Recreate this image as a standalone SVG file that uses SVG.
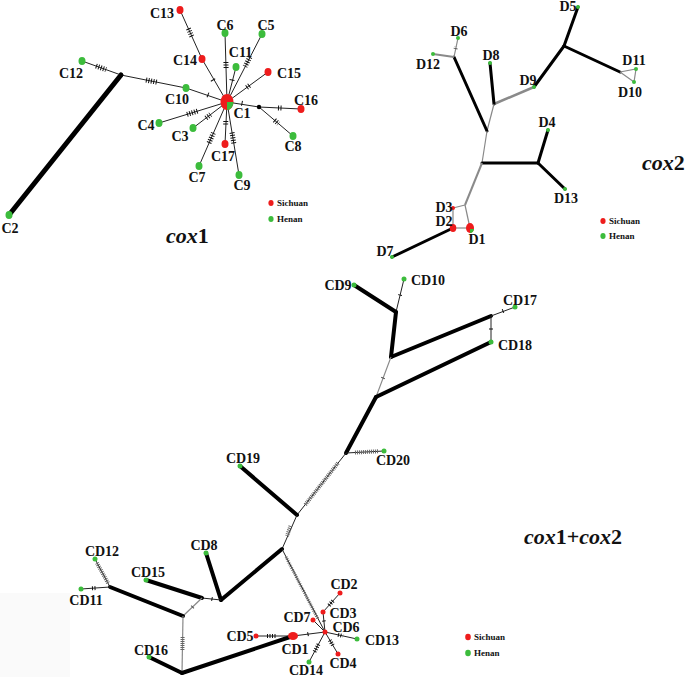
<svg xmlns="http://www.w3.org/2000/svg" width="685" height="677" viewBox="0 0 685 677">
<style>
text{font-family:"Liberation Serif","Times New Roman",serif;font-weight:bold;fill:#111}
.lb{font-size:14px;text-anchor:middle}
.lg{font-size:9px}
.ti{font-size:21px}
.e{stroke:#222;stroke-width:1;fill:none}
.t{stroke:#000;stroke-width:4;fill:none;stroke-linecap:round}
.t3{stroke:#000;stroke-width:3;fill:none;stroke-linecap:round}
.g{stroke:#888;stroke-width:1.2;fill:none}
.gw{stroke:#8a8a8a;stroke-width:2.5;fill:none}
.h{stroke:#111;stroke-width:5;stroke-dasharray:1 1.5;fill:none}
.hg{stroke:#666;stroke-width:4;stroke-dasharray:1 1;fill:none}
.r{fill:#ee1c1c}
.gr{fill:#3cbc3c}
</style>
<rect width="685" height="677" fill="#fff"/>
<rect x="0" y="593" width="70" height="84" fill="#fafafa"/>

<!-- ================= cox1 ================= -->
<g id="cox1-connectors">
<line class="t" x1="121" y1="75" x2="9" y2="215" style="stroke-width:5"/>
<line class="e" x1="82" y1="61" x2="121" y2="75"/>
<line class="h" x1="96" y1="66" x2="106" y2="69.6"/>
<line class="e" x1="121" y1="75" x2="186" y2="88"/>
<line class="h" x1="146" y1="80" x2="158" y2="82.4"/>
<line class="e" x1="186" y1="88" x2="227" y2="102"/>
<line class="h" x1="207.5" y1="94.8" x2="208.5" y2="95.2"/>
<line class="e" x1="180" y1="10" x2="202" y2="59"/>
<line class="h" x1="188.4" y1="28.6" x2="192.1" y2="37"/>
<line class="e" x1="202" y1="59" x2="227" y2="102"/>
<line class="h" x1="212.75" y1="79.57" x2="213.25" y2="80.43"/>
<line class="e" x1="225" y1="33" x2="227" y2="102"/>
<line class="h" x1="225.9" y1="62" x2="226.1" y2="68"/>
<line class="e" x1="236" y1="67" x2="227" y2="102"/>
<line class="h" x1="232.1" y1="79.5" x2="231.9" y2="80.5"/>
<line class="e" x1="262" y1="34" x2="227" y2="102"/>
<line class="h" x1="250" y1="57" x2="245" y2="66.5"/>
<line class="e" x1="268" y1="72" x2="227" y2="102"/>
<line class="h" x1="249.5" y1="85.5" x2="245.5" y2="88.4"/>
<line class="e" x1="159" y1="123" x2="227" y2="102"/>
<line class="h" x1="187" y1="114.4" x2="198" y2="111"/>
<line class="e" x1="193" y1="128" x2="227" y2="102"/>
<line class="h" x1="206" y1="118" x2="210.5" y2="114.6"/>
<line class="e" x1="225" y1="144" x2="227" y2="102"/>
<line class="h" x1="225.8" y1="121" x2="225.6" y2="125.5"/>
<line class="e" x1="199" y1="166" x2="227" y2="102"/>
<line class="h" x1="209" y1="143" x2="214" y2="131.5"/>
<line class="e" x1="239" y1="175" x2="227" y2="102"/>
<line class="h" x1="232" y1="132.5" x2="233.8" y2="143.5"/>
<line class="e" x1="227" y1="102" x2="259" y2="107"/>
<line class="h" x1="241.5" y1="103.2" x2="242.5" y2="103.4"/>
<line class="e" x1="259" y1="107" x2="301" y2="109"/>
<line class="h" x1="278" y1="107.9" x2="282" y2="108.1"/>
<line class="e" x1="259" y1="107" x2="293" y2="136"/>
<line class="h" x1="274.5" y1="120.2" x2="278.5" y2="123.6"/>
</g>
<g id="c-junction"><circle cx="121" cy="75" r="2" fill="#000"/><circle cx="259" cy="107" r="2.2" fill="#000"/></g>
<g id="C1"><ellipse cx="227" cy="102" rx="6.5" ry="8" class="r"/><path d="M227 102 L233.5 102 A6.5 8 0 0 1 227 110 Z" class="gr"/><text class="lb" x="242" y="118">C1</text></g>
<g id="C2"><ellipse cx="9" cy="215" rx="3.5" ry="4" class="gr"/><text class="lb" x="10" y="233">C2</text></g>
<g id="C3"><ellipse cx="193" cy="128" rx="3.5" ry="4" class="gr"/><text class="lb" x="180" y="141">C3</text></g>
<g id="C4"><ellipse cx="159" cy="123" rx="3.5" ry="4" class="gr"/><text class="lb" x="146" y="130">C4</text></g>
<g id="C5"><ellipse cx="262" cy="34" rx="3.5" ry="4" class="gr"/><text class="lb" x="266" y="30">C5</text></g>
<g id="C6"><ellipse cx="225" cy="33" rx="3.5" ry="4" class="gr"/><text class="lb" x="225" y="30">C6</text></g>
<g id="C7"><ellipse cx="199" cy="166" rx="3.5" ry="4" class="gr"/><text class="lb" x="197" y="182">C7</text></g>
<g id="C8"><ellipse cx="293" cy="136" rx="3.5" ry="4" class="gr"/><text class="lb" x="293" y="151">C8</text></g>
<g id="C9"><ellipse cx="239" cy="175" rx="3.5" ry="4" class="gr"/><text class="lb" x="242" y="190">C9</text></g>
<g id="C10"><ellipse cx="186" cy="88" rx="3.5" ry="4" class="gr"/><text class="lb" x="177" y="104">C10</text></g>
<g id="C11"><ellipse cx="236" cy="67" rx="3.5" ry="4" class="gr"/><text class="lb" x="240.5" y="57">C11</text></g>
<g id="C12"><ellipse cx="82" cy="61" rx="3.5" ry="4" class="gr"/><text class="lb" x="71" y="78">C12</text></g>
<g id="C13"><ellipse cx="180" cy="10" rx="3.5" ry="4" class="r"/><text class="lb" x="162" y="18">C13</text></g>
<g id="C14"><ellipse cx="202" cy="59" rx="3.5" ry="4" class="r"/><text class="lb" x="185" y="65">C14</text></g>
<g id="C15"><ellipse cx="268" cy="72" rx="3.5" ry="4" class="r"/><text class="lb" x="289" y="78">C15</text></g>
<g id="C16"><ellipse cx="301" cy="109" rx="3.5" ry="4" class="r"/><text class="lb" x="306" y="105">C16</text></g>
<g id="C17"><ellipse cx="225" cy="144" rx="3.5" ry="4" class="r"/><text class="lb" x="223" y="161">C17</text></g>
<g id="legend1">
<ellipse cx="271" cy="203" rx="2.6" ry="3" class="r"/><text class="lg" x="277" y="206">Sichuan</text>
<ellipse cx="271" cy="219" rx="2.6" ry="3" class="gr"/><text class="lg" x="277" y="222">Henan</text>
</g>
<g id="title1"><text class="ti" x="166" y="243" style="font-size:22px"><tspan font-style="italic">cox</tspan>1</text></g>

<!-- ================= cox2 ================= -->
<g id="cox2-connectors">
<line class="t3" x1="578" y1="7" x2="564" y2="46"/>
<line class="t3" x1="564" y1="46" x2="620" y2="72"/>
<line class="t3" x1="564" y1="46" x2="534" y2="87"/>
<polyline class="g" points="620,72 636,69 634,82 620,72"/>
<line class="gw" x1="534" y1="87" x2="494" y2="104"/>
<line class="t3" x1="494" y1="104" x2="490" y2="63"/>
<line class="g" x1="494" y1="104" x2="487" y2="131"/>
<line class="t3" x1="454" y1="57" x2="487" y2="131"/>
<line class="g" x1="454" y1="57" x2="458" y2="38"/>
<line class="h" x1="455.5" y1="49" x2="456" y2="46.5" style="stroke-width:4;stroke:#555"/>
<line class="gw" x1="454" y1="57" x2="433" y2="54" style="stroke-width:2"/>
<line class="g" x1="487" y1="131" x2="482" y2="163"/>
<line class="t3" x1="482" y1="163" x2="538" y2="163"/>
<line class="t3" x1="538" y1="163" x2="548" y2="130"/>
<line class="t3" x1="538" y1="163" x2="565" y2="189"/>
<line class="gw" x1="482" y1="163" x2="465" y2="205" style="stroke-width:2"/>
<line class="g" x1="465" y1="205" x2="453" y2="208"/>
<line class="g" x1="453" y1="208" x2="453" y2="228"/>
<line class="g" x1="465" y1="205" x2="470" y2="228"/>
<line class="g" x1="453" y1="228" x2="470" y2="228"/>
<line class="t3" x1="453" y1="228" x2="392" y2="257"/>
</g>
<g id="D1"><ellipse cx="470" cy="228" rx="4" ry="5" class="r"/><path d="M470 229 L474 229 A4 5 0 0 1 470 233 Z" class="gr"/><text class="lb" x="477" y="244">D1</text></g>
<g id="D2"><ellipse cx="453" cy="228" rx="3.3" ry="4" class="r"/><text class="lb" x="444" y="226">D2</text></g>
<g id="D3"><circle cx="453" cy="208" r="2" class="r"/><text class="lb" x="444" y="212">D3</text></g>
<g id="D4"><circle cx="548" cy="130" r="2" class="gr"/><text class="lb" x="547" y="127">D4</text></g>
<g id="D5"><circle cx="578" cy="7" r="2" class="gr"/><text class="lb" x="568" y="11">D5</text></g>
<g id="D6"><circle cx="458" cy="38" r="2" class="gr"/><text class="lb" x="459" y="36">D6</text></g>
<g id="D7"><circle cx="392" cy="257" r="2" class="gr"/><text class="lb" x="385" y="256">D7</text></g>
<g id="D8"><circle cx="490" cy="63" r="2" class="gr"/><text class="lb" x="491" y="60">D8</text></g>
<g id="D9"><circle cx="534" cy="87" r="2" class="gr"/><text class="lb" x="528" y="85">D9</text></g>
<g id="D10"><circle cx="634" cy="82" r="2" class="gr"/><text class="lb" x="630" y="97">D10</text></g>
<g id="D11"><circle cx="636" cy="69" r="2" class="gr"/><text class="lb" x="634" y="65">D11</text></g>
<g id="D12"><circle cx="433" cy="54" r="2" class="gr"/><text class="lb" x="428" y="69">D12</text></g>
<g id="D13"><circle cx="565" cy="189" r="2" class="gr"/><text class="lb" x="566" y="203">D13</text></g>
<g id="legend2">
<ellipse cx="603" cy="221" rx="2.6" ry="3" class="r"/><text class="lg" x="609" y="224">Sichuan</text>
<ellipse cx="603" cy="236" rx="2.6" ry="3" class="gr"/><text class="lg" x="609" y="239">Henan</text>
</g>
<g id="title2"><text class="ti" x="642" y="170" style="font-size:22px"><tspan font-style="italic">cox</tspan>2</text></g>

<!-- ================= cox1+cox2 ================= -->
<g id="cd-connectors">
<line class="t" x1="354" y1="285" x2="396" y2="312"/>
<line class="e" x1="396" y1="312" x2="404" y2="279"/>
<line class="h" x1="399.9" y1="295.5" x2="400.1" y2="294.5" style="stroke-width:4"/>
<line class="t" x1="396" y1="312" x2="391" y2="357"/>
<line class="t" x1="391" y1="357" x2="491" y2="316"/>
<line class="e" x1="491" y1="316" x2="515" y2="307"/>
<line class="h" x1="502.5" y1="311.2" x2="503.5" y2="310.8" style="stroke-width:4"/>
<line class="e" x1="491" y1="316" x2="491" y2="342"/>
<line class="h" x1="491" y1="328.5" x2="491" y2="329.5" style="stroke-width:4"/>
<line class="g" x1="391" y1="357" x2="376" y2="397"/>
<line class="h" x1="383.2" y1="377.5" x2="382.8" y2="378.5" style="stroke-width:4;stroke:#555"/>
<line class="t" x1="376" y1="397" x2="491" y2="342"/>
<line class="t" x1="376" y1="397" x2="346" y2="453"/>
<line class="e" x1="346" y1="453" x2="384" y2="451"/>
<line class="hg" x1="355" y1="452.5" x2="378" y2="451.3"/>
<line class="e" x1="346" y1="453" x2="297" y2="515"/>
<line class="hg" x1="338" y1="463" x2="305" y2="505"/>
<line class="t" x1="297" y1="515" x2="240" y2="466"/>
<line class="e" x1="297" y1="515" x2="282" y2="549"/>
<line class="hg" x1="290.5" y1="526" x2="287" y2="536"/>
<line class="t" x1="282" y1="549" x2="221" y2="600"/>
<line class="t" x1="221" y1="600" x2="206" y2="553"/>
<line class="e" x1="221" y1="600" x2="202" y2="598"/>
<line class="h" x1="211.5" y1="598.9" x2="212.5" y2="599.1" style="stroke-width:4"/>
<line class="t" x1="202" y1="598" x2="146" y2="580"/>
<line class="g" x1="202" y1="598" x2="183" y2="616"/>
<line class="h" x1="192.9" y1="606.6" x2="192.1" y2="607.4" style="stroke-width:4;stroke:#555"/>
<line class="t" x1="183" y1="616" x2="110" y2="587"/>
<line class="e" x1="110" y1="587" x2="95" y2="559"/>
<line class="hg" x1="108" y1="583" x2="97" y2="563"/>
<line class="e" x1="110" y1="587" x2="81" y2="589"/>
<line class="h" x1="92" y1="588.3" x2="97" y2="588" style="stroke-width:4"/>
<line class="g" x1="183" y1="616" x2="182" y2="673"/>
<line class="hg" x1="182.6" y1="637" x2="182.4" y2="650"/>
<line class="t" x1="182" y1="673" x2="149" y2="657"/>
<line class="t" x1="182" y1="673" x2="293" y2="636"/>
<line class="e" x1="293" y1="636" x2="256" y2="636"/>
<line class="h" x1="267" y1="636" x2="276" y2="636" style="stroke-width:4"/>
<line class="e" x1="282" y1="549" x2="325" y2="632"/>
<line class="hg" x1="286" y1="557" x2="318" y2="619" style="stroke-width:3"/>
<line class="e" x1="293" y1="636" x2="325" y2="632"/>
<line class="h" x1="307.5" y1="634.2" x2="308.5" y2="634" style="stroke-width:4"/>
<line class="e" x1="325" y1="632" x2="313" y2="620"/>
<line class="e" x1="325" y1="632" x2="323" y2="612"/>
<line class="h" x1="324" y1="621.5" x2="323.9" y2="620.5" style="stroke-width:3.5"/>
<line class="e" x1="323" y1="612" x2="340" y2="593"/>
<line class="h" x1="329" y1="605.3" x2="334" y2="599.7" style="stroke-width:4"/>
<line class="e" x1="325" y1="632" x2="357" y2="639"/>
<line class="h" x1="338" y1="634.8" x2="343" y2="636" style="stroke-width:4"/>
<line class="e" x1="325" y1="632" x2="338" y2="654"/>
<line class="h" x1="329.8" y1="640.2" x2="332.8" y2="645.2" style="stroke-width:4"/>
<line class="e" x1="325" y1="632" x2="309" y2="662"/>
<line class="h" x1="318.5" y1="644.2" x2="314.5" y2="651.7" style="stroke-width:4"/>
</g>
<g id="CD1"><ellipse cx="293" cy="636" rx="5" ry="4" class="r"/><text class="lb" x="295" y="654">CD1</text></g>
<g id="CD2"><circle cx="340" cy="593" r="2.5" class="r"/><text class="lb" x="344" y="589">CD2</text></g>
<g id="CD3"><circle cx="323" cy="612" r="2.5" class="r"/><text class="lb" x="343" y="618">CD3</text></g>
<g id="CD4"><circle cx="338" cy="654" r="2.5" class="r"/><text class="lb" x="343" y="668">CD4</text></g>
<g id="CD5"><circle cx="256" cy="636" r="2.5" class="r"/><text class="lb" x="240" y="641">CD5</text></g>
<g id="CD6"><circle cx="325" cy="632" r="2.5" class="r"/><text class="lb" x="346" y="632">CD6</text></g>
<g id="CD7"><circle cx="313" cy="620" r="2.5" class="r"/><text class="lb" x="297" y="622">CD7</text></g>
<g id="CD8"><circle cx="206" cy="553" r="2.5" class="gr"/><text class="lb" x="204" y="550">CD8</text></g>
<g id="CD9"><circle cx="354" cy="285" r="2.5" class="gr"/><text class="lb" x="338" y="290">CD9</text></g>
<g id="CD10"><circle cx="404" cy="279" r="2.5" class="gr"/><text class="lb" x="428" y="285">CD10</text></g>
<g id="CD11"><circle cx="81" cy="589" r="2.5" class="gr"/><text class="lb" x="86" y="605">CD11</text></g>
<g id="CD12"><circle cx="95" cy="559" r="2.5" class="gr"/><text class="lb" x="102" y="556">CD12</text></g>
<g id="CD13"><circle cx="357" cy="639" r="2.5" class="gr"/><text class="lb" x="382" y="645">CD13</text></g>
<g id="CD14"><circle cx="309" cy="662" r="2.5" class="gr"/><text class="lb" x="306" y="674.5">CD14</text></g>
<g id="CD15"><circle cx="146" cy="580" r="2.5" class="gr"/><text class="lb" x="148" y="577">CD15</text></g>
<g id="CD16"><circle cx="149" cy="657" r="2.5" class="gr"/><text class="lb" x="151" y="655">CD16</text></g>
<g id="CD17"><circle cx="515" cy="307" r="2.5" class="gr"/><text class="lb" x="520" y="305">CD17</text></g>
<g id="CD18"><circle cx="491" cy="342" r="2.5" class="gr"/><text class="lb" x="515" y="350">CD18</text></g>
<g id="CD19"><circle cx="240" cy="466" r="2.5" class="gr"/><text class="lb" x="243" y="463">CD19</text></g>
<g id="CD20"><circle cx="384" cy="451" r="2.5" class="gr"/><text class="lb" x="393" y="465">CD20</text></g>
<g id="legend3">
<ellipse cx="468" cy="637" rx="2.8" ry="3.2" class="r"/><text class="lg" x="474" y="640">Sichuan</text>
<ellipse cx="468" cy="653" rx="2.8" ry="3.2" class="gr"/><text class="lg" x="474" y="656">Henan</text>
</g>
<g id="title3"><text class="ti" x="524" y="544" style="font-size:22px"><tspan font-style="italic">cox</tspan>1+<tspan font-style="italic">cox</tspan>2</text></g>
</svg>
